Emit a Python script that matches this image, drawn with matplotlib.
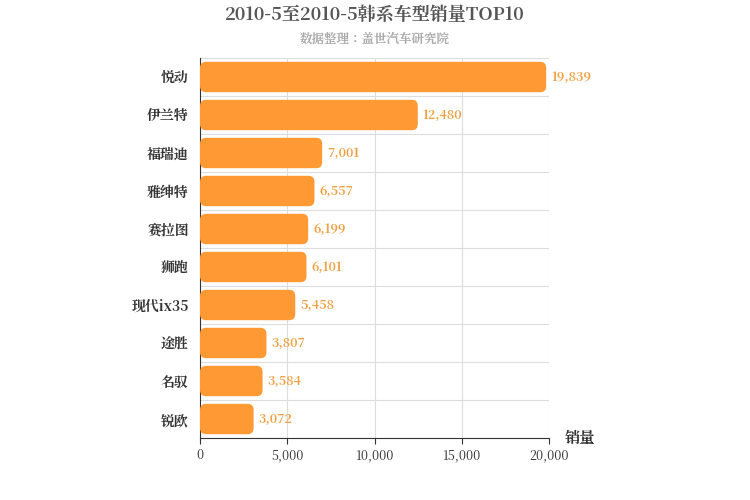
import matplotlib
matplotlib.use("Agg")
import matplotlib.pyplot as plt
from matplotlib.patches import FancyBboxPatch
from matplotlib import font_manager as fm

cjk = None
for f in fm.fontManager.ttflist:
    if "CJK" in f.name and ("SC" in f.name or cjk is None):
        cjk = f.name
if cjk is None:
    for f in fm.findSystemFonts():
        if "CJK" in f or "cjk" in f:
            fm.fontManager.addfont(f)
            cjk = fm.FontProperties(fname=f).get_name()
            break
plt.rcParams['font.family'] = [cjk or 'Noto Sans CJK SC', 'DejaVu Sans']

categories = ["悦动", "伊兰特", "福瑞迪", "雅绅特", "赛拉图", "狮跑", "现代ix35", "途胜", "名驭", "锐欧"]
values = [19839, 12480, 7001, 6557, 6199, 6101, 5458, 3807, 3584, 3072]
xticks = [0, 5000, 10000, 15000, 20000]

fig = plt.figure(figsize=(7.5, 5), dpi=100)
ax = fig.add_axes([200/750, 1-438/500, 349/750, 380/500])
n = len(categories)
ax.set_xlim(0, 20000)
ax.set_ylim(n - 0.5, -0.5)

xpp = 20000/349
ypp = n/380
color = "#FF9933"
for i, (c, v) in enumerate(zip(categories, values)):
    h = 0.8
    p = FancyBboxPatch((0, i - h/2), v, h,
                       boxstyle=f"round,pad=0,rounding_size={6*xpp}",
                       mutation_aspect=ypp/xpp, fc=color, ec="none", zorder=3)
    ax.add_patch(p)
    ax.text(v + 5*xpp, i, f"{v:,}", va="center", ha="left", color="#F0A040",
            fontsize=9, fontweight="bold", zorder=4)

ax.set_yticks(range(n))
ax.set_yticklabels(categories, fontsize=10, fontweight="bold", color="#333333")
ax.set_xticks(xticks)
ax.set_xticklabels([f"{t:,}" for t in xticks], fontsize=9, color="#333333")
for t in xticks[1:]:
    ax.axvline(t, color="#dddddd", lw=0.8, zorder=1)
for k in range(n):
    ax.axhline(k - 0.5, color="#dddddd", lw=0.8, zorder=1)
for s in ["top", "right"]:
    ax.spines[s].set_visible(False)
for s in ["left", "bottom"]:
    ax.spines[s].set_color("#333333")
ax.tick_params(axis="y", length=0, pad=8)
ax.tick_params(axis="x", length=4, color="#333333")

fig.text(0.5, 1-15/500, "2010-5至2010-5韩系车型销量TOP10", ha="center", va="center",
         fontsize=13, fontweight="bold", color="#555555")
fig.text(0.5, 1-39/500, "数据整理：盖世汽车研究院", ha="center", va="center",
         fontsize=9, fontweight="bold", color="#aaaaaa")
fig.text(565/750, 1-438/500, "销量", ha="left", va="center", fontsize=11,
         fontweight="bold", color="#333333")

fig.savefig("out.png", dpi=100)
